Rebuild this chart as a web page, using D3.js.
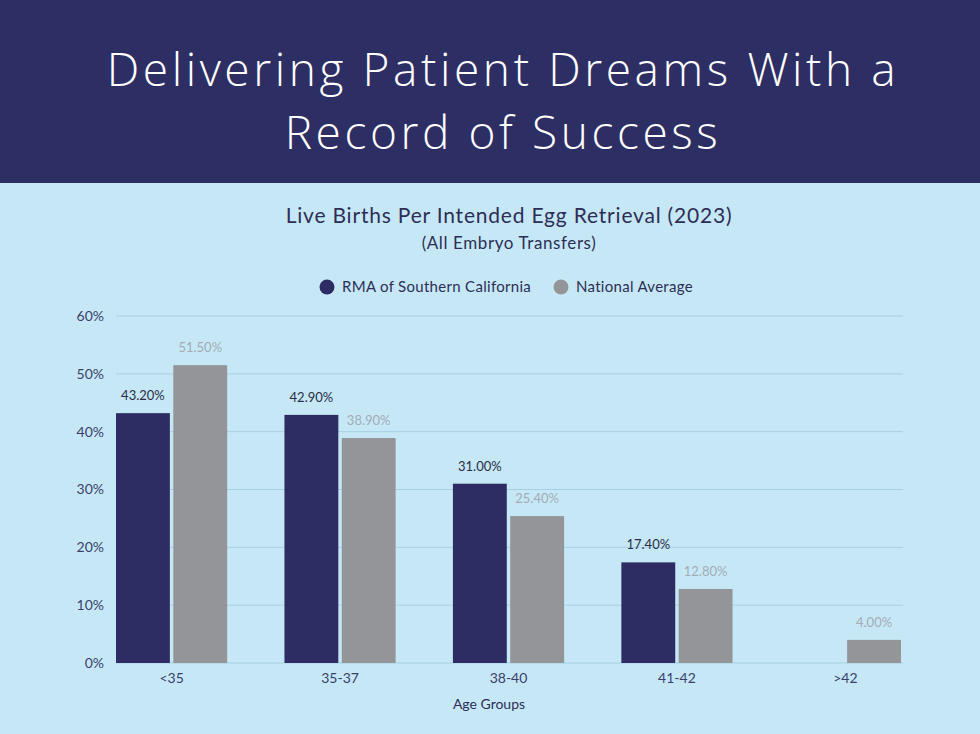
<!DOCTYPE html>
<html>
<head>
<meta charset="utf-8">
<script src="https://cdn.jsdelivr.net/npm/d3@7"></script>
<style>
  body { margin: 0; background: #c6e8f6; }
  svg { display: block; }
</style>
</head>
<body>
<div id="chart"></div>
<script>
// Data
const ageGroups = ["<35", "35-37", "38-40", "41-42", ">42"];
const seriesNames = ["RMA of Southern California", "National Average"];
const rmaValues = [43.2, 42.9, 31.0, 17.4, null];
const nationalValues = [51.5, 38.9, 25.4, 12.8, 4.0];
const yTicks = [0, 10, 20, 30, 40, 50, 60];

const width = 980;
const height = 734;
const margin = { top: 316, right: 78, bottom: 71, left: 116 };

const colors = { rma: "#2d2d63", nat: "#939598" };

const svg = d3.select("#chart")
    .append("svg")
    .attr("width", width)
    .attr("height", height);

// Background + header band
svg.append("rect").attr("width", width).attr("height", height).attr("fill", "#c6e8f6");
svg.append("rect").attr("width", width).attr("height", 183).attr("fill", "#2d2e63");

const titleFont = "'Open Sans', sans-serif";
svg.append("text")
    .attr("x", 503).attr("y", 86)
    .attr("text-anchor", "middle")
    .style("font-family", titleFont).style("font-weight", 300)
    .style("font-size", "46px").style("letter-spacing", "3.6px")
    .attr("fill", "#ffffff")
    .text("Delivering Patient Dreams With a");
svg.append("text")
    .attr("x", 503).attr("y", 149)
    .attr("text-anchor", "middle")
    .style("font-family", titleFont).style("font-weight", 300)
    .style("font-size", "46px").style("letter-spacing", "3.6px")
    .attr("fill", "#ffffff")
    .text("Record of Success");

// Chart titles
const bodyFont = "Lato, sans-serif";
svg.append("text")
    .attr("x", 509).attr("y", 223)
    .attr("text-anchor", "middle")
    .style("font-family", bodyFont).style("font-size", "21px")
    .style("letter-spacing", "0.8px")
    .attr("fill", "#2d2e55")
    .text("Live Births Per Intended Egg Retrieval (2023)");
svg.append("text")
    .attr("x", 509).attr("y", 249)
    .attr("text-anchor", "middle")
    .style("font-family", bodyFont).style("font-size", "17px")
    .style("letter-spacing", "0.6px")
    .attr("fill", "#2d2e55")
    .text("(All Embryo Transfers)");

// Legend
const legend = svg.append("g");
const legendItems = [
    { name: seriesNames[0], color: colors.rma, x: 327 },
    { name: seriesNames[1], color: colors.nat, x: 561 }
];
legendItems.forEach((d) => {
    legend.append("circle").attr("cx", d.x).attr("cy", 287).attr("r", 7.5).attr("fill", d.color);
    legend.append("text")
        .attr("x", d.x + 15).attr("y", 292)
        .style("font-family", bodyFont).style("font-size", "15px")
        .style("letter-spacing", "0.3px")
        .attr("fill", "#2d2e55")
        .text(d.name);
});

// Scales
const x0 = d3.scaleBand()
    .domain(ageGroups)
    .range([margin.left, width - margin.right - 1])
    .paddingInner(0.34)
    .paddingOuter(0);

const x1 = d3.scaleBand()
    .domain(["rma", "nat"])
    .range([0, x0.bandwidth()])
    .paddingInner(0.06);

const y = d3.scaleLinear()
    .domain([0, 60])
    .range([height - margin.bottom, margin.top]);

// Gridlines
svg.append("g")
    .selectAll("line")
    .data(yTicks)
    .enter()
    .append("line")
    .attr("x1", margin.left).attr("x2", width - margin.right + 1)
    .attr("y1", (d) => y(d)).attr("y2", (d) => y(d))
    .attr("stroke", "#a6cfe1").attr("stroke-width", 1);

// Y axis
const yAxis = d3.axisLeft(y)
    .tickValues(yTicks)
    .tickSize(0)
    .tickPadding(12)
    .tickFormat((d) => d + "%");
svg.append("g")
    .attr("transform", `translate(${margin.left}, 0)`)
    .call(yAxis)
    .call((g) => g.select(".domain").remove())
    .selectAll("text")
    .style("font-family", bodyFont).style("font-size", "14px")
    .attr("fill", "#3a3f6b");

// X axis
const xAxis = d3.axisBottom(x0).tickSize(0).tickPadding(10);
svg.append("g")
    .attr("transform", `translate(0, ${height - margin.bottom})`)
    .call(xAxis)
    .call((g) => g.select(".domain").remove())
    .selectAll("text")
    .style("font-family", bodyFont).style("font-size", "14px")
    .attr("fill", "#3a3f6b");

svg.append("text")
    .attr("x", 489).attr("y", 709)
    .attr("text-anchor", "middle")
    .style("font-family", bodyFont).style("font-size", "14px")
    .attr("fill", "#2d2e55")
    .text("Age Groups");

// Bars
const rows = ageGroups.map((g, i) => ({
    group: g,
    values: [
        { key: "rma", value: rmaValues[i] },
        { key: "nat", value: nationalValues[i] }
    ].filter((v) => v.value != null)
}));

const groups = svg.append("g")
    .selectAll("g")
    .data(rows)
    .enter()
    .append("g")
    .attr("transform", (d) => `translate(${x0(d.group)}, 0)`);

groups.selectAll("rect")
    .data((d) => d.values)
    .enter()
    .append("rect")
    .attr("x", (d) => x1(d.key))
    .attr("y", (d) => y(d.value))
    .attr("width", x1.bandwidth())
    .attr("height", (d) => y(0) - y(d.value))
    .attr("fill", (d) => colors[d.key]);

groups.selectAll("text.val")
    .data((d) => d.values)
    .enter()
    .append("text")
    .attr("class", "val")
    .attr("x", (d) => x1(d.key) + x1.bandwidth() / 2)
    .attr("y", (d) => y(d.value) - 13)
    .attr("text-anchor", "middle")
    .style("font-family", bodyFont).style("font-size", "13px")
    .attr("fill", (d) => d.key === "rma" ? "#2a2d45" : "#a3acb5")
    .text((d) => d.value.toFixed(2) + "%");
</script>
</body>
</html>
